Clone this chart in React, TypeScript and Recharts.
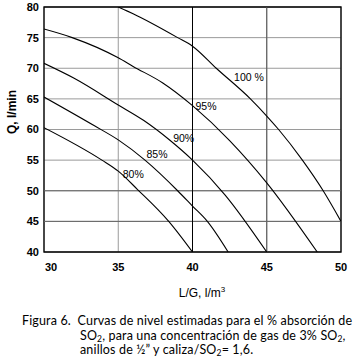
import React from "react";
import { LineChart, Line, XAxis, YAxis, CartesianGrid, ReferenceLine, ReferenceArea, ReferenceDot } from "recharts";

// L/G (x) y Q (y), una curva por % de absorción
const lg80 = [30, 33.9, 35, 36.3, 38.4, 40];
const q80 = [60.3, 55, 53.2, 50.2, 45, 40];
const lg85 = [30, 33.4, 35, 36.8, 39, 40, 41, 42.4];
const q85 = [65.3, 60.6, 58.3, 55, 50, 47.5, 45, 40];
const lg90 = [30, 32, 35, 36.7, 38.5, 40, 42.2, 45];
const q90 = [70.8, 68.4, 64, 61.5, 58.2, 55, 49.3, 40];
const lg95 = [30, 31.9, 35, 36, 38, 40, 42.5, 45, 48.4];
const q95 = [76.4, 75, 71.7, 70.3, 67.6, 63.9, 58.2, 51.3, 40];
const lg100 = [35, 36, 39, 40, 41.6, 43.9, 45, 45.8, 47.4, 48.8, 50];
const q100 = [80, 78.9, 75, 73.6, 70, 65, 62.2, 60, 55, 50, 45];

const xTicks = [30, 35, 40, 45, 50];
const yTicks = [40, 45, 50, 55, 60, 65, 70, 75, 80];

const labelTexts = ["80%", "85%", "90%", "95%", "100 %"];
const labelX = [35.3, 36.9, 38.7, 40.2, 42.8];
const labelY = [52.7, 56.0, 58.6, 63.8, 68.5];

const zip = (xs: number[], ys: number[]) => xs.map((x, i) => ({ x, y: ys[i] }));
const curves = [zip(lg80, q80), zip(lg85, q85), zip(lg90, q90), zip(lg95, q95), zip(lg100, q100)];

const tickStyle = { fontFamily: "'Liberation Sans', Arial, sans-serif", fontWeight: 700, fontSize: 11, fill: "#000" };

const XTick = (p: any) => (
  <text x={p.x + (p.payload.value === 30 ? 7 : 0)} y={p.y} dy="0.71em" textAnchor="middle" {...tickStyle}>
    {p.payload.value}
  </text>
);

const sub = (t: string) => <span style={{ fontSize: 8.5, verticalAlign: "-2px", lineHeight: 0 }}>{t}</span>;

export default function App() {
  return (
    <div style={{ position: "absolute", left: 0, top: 0, width: 362, height: 364, background: "#fff", fontFamily: "'Liberation Sans', Arial, sans-serif", overflow: "hidden" }}>
      <LineChart width={362} height={300} margin={{ top: 7, right: 21, bottom: 18, left: 0 }}>
        <CartesianGrid stroke="#9a9a9a" strokeWidth={1} />
        <XAxis type="number" dataKey="x" domain={[30, 50]} ticks={xTicks} allowDataOverflow
          axisLine={false} tickLine={false} tickSize={0} tickMargin={11} height={30} tick={<XTick />} />
        <YAxis type="number" dataKey="y" domain={[40, 80]} ticks={yTicks} allowDataOverflow
          axisLine={false} tickLine={false} tickSize={0} tickMargin={5} width={44} tick={tickStyle} />
        <ReferenceLine x={45} stroke="#555" />
        <ReferenceLine y={50} stroke="#666" />
        <ReferenceLine y={45} stroke="#666" />
        <ReferenceLine x={40} stroke="#000" />
        {curves.map((d, i) => (
          <Line key={i} data={d} dataKey="y" type="monotone" stroke="#000" strokeWidth={1.1} dot={false} isAnimationActive={false} />
        ))}
        {labelTexts.map((t, i) => (
          <ReferenceDot key={t} x={labelX[i]} y={labelY[i]} r={0}
            shape={(p: any) => (
              <text x={p.cx} y={p.cy} dy="0.35em" textAnchor="start" fontSize={10.5} fill="#000"
                fontFamily="'Liberation Sans', Arial, sans-serif">{t}</text>
            )} />
        ))}
        <ReferenceArea x1={30} x2={50} y1={40} y2={80} fill="none" stroke="#000" strokeWidth={1.3} />
      </LineChart>
      <div style={{ position: "absolute", left: 11.5, top: 112, transform: "translate(-50%,-50%) rotate(-90deg)", whiteSpace: "nowrap", fontSize: 12, fontWeight: 700 }}>
        Q, l/min
      </div>
      <div style={{ position: "absolute", left: 202, top: 292, transform: "translate(-50%,-50%)", whiteSpace: "nowrap", fontSize: 12 }}>
        L/G, l/m<sup style={{ fontSize: 8 }}>3</sup>
      </div>
      <div style={{ position: "absolute", left: 22, top: 314, whiteSpace: "nowrap", fontFamily: "Lato, sans-serif", fontSize: 12.5, letterSpacing: "0.15px", lineHeight: "14.5px", color: "#000" }}>
        <div>Figura 6.&nbsp;&nbsp;Curvas de nivel estimadas para el % absorción de</div>
        <div style={{ paddingLeft: 58 }}>SO{sub("2")}, para una concentración de gas de 3% SO{sub("2")},</div>
        <div style={{ paddingLeft: 58 }}>anillos de ½” y caliza/SO{sub("2")}= 1,6.</div>
      </div>
    </div>
  );
}
